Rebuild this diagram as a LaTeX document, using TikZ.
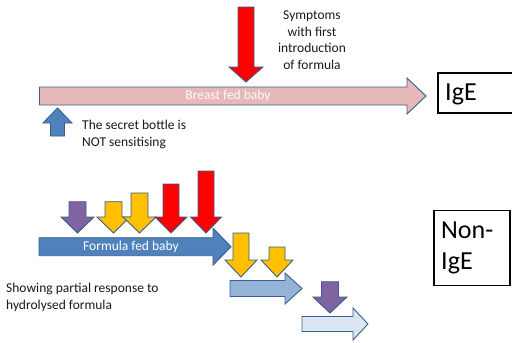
\documentclass[tikz,border=0pt]{standalone}
\usepackage{fontspec}
\setmainfont{Carlito}
\definecolor{arrline}{HTML}{3B5E8C}
\definecolor{pinkf}{HTML}{E6B9B8}
\definecolor{bluef}{HTML}{4F81BD}
\definecolor{midbluef}{HTML}{95B3D7}
\definecolor{lightbluef}{HTML}{DCE6F2}
\definecolor{redf}{HTML}{FF0000}
\definecolor{yellowf}{HTML}{FFC000}
\definecolor{purplef}{HTML}{8064A2}
\definecolor{txtc}{HTML}{1A1A1A}
\newcommand\myRArrow[7]{% style, xl, xs, xt, yc, h, H
  \draw[#1] (#2,{#5-#6}) -- (#3,{#5-#6}) -- (#3,{#5-#7}) -- (#4,#5) -- (#3,{#5+#7}) -- (#3,{#5+#6}) -- (#2,{#5+#6}) -- cycle;}
\newcommand\myDArrow[7]{% style, xc, w, W, ytop, ybase, ytip
  \draw[#1] ({#2-#3},#5) -- ({#2+#3},#5) -- ({#2+#3},#6) -- ({#2+#4},#6) -- (#2,#7) -- ({#2-#4},#6) -- ({#2-#3},#6) -- cycle;}
\begin{document}
\begin{tikzpicture}[x=1pt,y=-1pt,
  arr/.style={draw=arrline, line width=0.9pt, line join=miter},
  txt/.style={inner sep=0pt, text=txtc, font=\fontsize{13.5}{16.5}\selectfont},
  wtxt/.style={inner sep=0pt, text=white, font=\fontsize{13.5}{16.5}\selectfont},
  big/.style={inner sep=0pt, text=black, font=\fontsize{26}{31.7}\selectfont},
  boxline/.style={draw=black, line width=1.1pt}]
\clip (0,0) rectangle (512,343);
\fill[white] (0,0) rectangle (512,343);
% top section
\myRArrow{arr, fill=pinkf}{39.5}{407}{426}{96}{9}{18}
\myDArrow{arr, fill=redf}{246}{8}{17}{7}{67}{82}
\myDArrow{arr, fill=bluef}{57.5}{7}{14.5}{136}{123}{108}
\node[wtxt, text=white!92!pinkf] (bfb) at (228,96) {Breast fed baby};
\node[txt, align=center] (sym) at (312,40) {Symptoms\\with first\\introduction\\of formula};
\node[txt, align=left, anchor=west] (secret) at (82,134.5) {The secret bottle is\\NOT sensitising};
\draw[boxline] (438,73) rectangle (530,113);
\node[big, anchor=west] (ige) at (445,94) {IgE};
% bottom section
\myRArrow{arr, fill=bluef}{39}{213}{231}{246.7}{9}{18.5}
\node[wtxt] (ffb) at (131,246.5) {Formula fed baby};
\myDArrow{arr, fill=purplef}{77.5}{8.5}{16.5}{201.7}{217}{233}
\myDArrow{arr, fill=yellowf}{113.5}{8.5}{16.5}{201.7}{217}{233}
\myDArrow{arr, fill=yellowf}{139.5}{8.5}{16.5}{193}{217}{233}
\myDArrow{arr, fill=redf}{171}{8}{16}{184}{217}{233}
\myDArrow{arr, fill=redf}{206}{8}{15.5}{171}{217}{233}
\myRArrow{arr, fill=midbluef}{230}{285}{302}{288.5}{8}{15.5}
\myDArrow{arr, fill=yellowf}{241}{8}{16}{233}{260}{277}
\myDArrow{arr, fill=yellowf}{277}{8}{16}{247}{260}{277}
\myRArrow{arr, fill=lightbluef}{302}{353}{368}{324}{7.5}{16}
\myDArrow{arr, fill=purplef}{330}{8.5}{17}{281.7}{297}{313}
\node[txt, align=left, anchor=west] (showing) at (6,297.5) {Showing partial response to\\hydrolysed formula};
\draw[boxline] (434,210.7) rectangle (510,285.7);
\node[big, align=left, anchor=west] (nonige) at (441,248) {Non-\\IgE};
\end{tikzpicture}
\end{document}
